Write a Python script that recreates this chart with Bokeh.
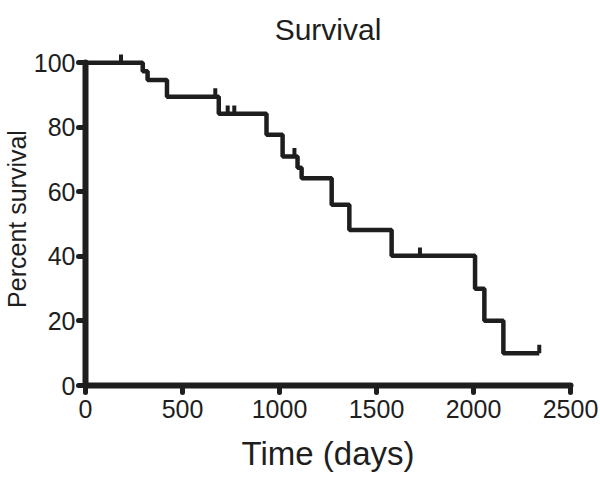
from bokeh.plotting import figure
from bokeh.embed import file_html
from bokeh.resources import INLINE
from bokeh.models import FixedTicker, Range1d, Title

# Kaplan-Meier step data (days, percent survival)
event_days = [0, 295, 320, 420, 687, 933, 1016, 1093, 1114, 1269, 1360, 1578, 2008, 2056, 2154]
survival = [100, 97.4, 94.7, 89.5, 84.2, 77.7, 71.0, 67.5, 64.2, 56.0, 48.2, 40.2, 30.0, 20.1, 10.0]
last_day = 2339

censor_days = [183, 669, 733, 767, 1077, 1724, 2339]
censor_surv = [100, 89.5, 84.2, 84.2, 71.0, 40.2, 10.0]

x_ticks = [0, 500, 1000, 1500, 2000, 2500]
y_ticks = [0, 20, 40, 60, 80, 100]

title_text = "Survival"
x_label = "Time (days)"
y_label = "Percent survival"

INK = "#1e1e1e"
FONT = "Liberation Sans"

p = figure(frame_width=485, frame_height=333, output_backend="svg", toolbar_location=None,
           x_range=Range1d(0, 2500), y_range=Range1d(0, 103.2),
           min_border_left=85, min_border_right=30, min_border_top=52, min_border_bottom=92)
p.outline_line_color = None
p.grid.visible = False
p.background_fill_color = "white"
p.border_fill_color = "white"

xs = event_days + [last_day]
ys = survival + [survival[-1]]
p.step(xs, ys, mode="after", line_color=INK, line_width=4.5)

tick_len = 2.6
p.segment(x0=censor_days, y0=censor_surv, x1=censor_days,
          y1=[v + tick_len for v in censor_surv], line_color=INK, line_width=4)

for ax in (p.xaxis[0], p.yaxis[0]):
    ax.axis_line_color = INK
    ax.axis_line_width = 6
    ax.axis_line_cap = "round"
    ax.major_tick_line_color = INK
    ax.major_tick_line_width = 5
    ax.major_tick_line_cap = "round"
    ax.major_tick_out = 7
    ax.major_tick_in = 0
    ax.minor_tick_line_color = None
    ax.major_label_text_font = FONT
    ax.major_label_text_font_size = "25px"
    ax.major_label_text_color = INK
    ax.axis_label_text_font = FONT
    ax.axis_label_text_font_style = "normal"
    ax.axis_label_text_color = INK

p.yaxis.bounds = (0, 100)
p.xaxis.ticker = FixedTicker(ticks=x_ticks)
p.yaxis.ticker = FixedTicker(ticks=y_ticks)
p.xaxis.axis_label = x_label
p.xaxis.axis_label_text_font_size = "33px"
p.xaxis.major_label_standoff = 7
p.yaxis.major_label_standoff = 3
p.xaxis.axis_label_standoff = 14

p.add_layout(Title(text=title_text, align="center", vertical_align="bottom",
                   text_font=FONT, text_font_size="30px",
                   text_font_style="normal", text_color=INK, standoff=14), "above")
p.add_layout(Title(text=y_label, align="center", offset=8, text_font=FONT, text_font_size="25px",
                   text_font_style="normal", text_color=INK, standoff=0), "left")

open("out.html", "w").write(file_html(p, INLINE))
